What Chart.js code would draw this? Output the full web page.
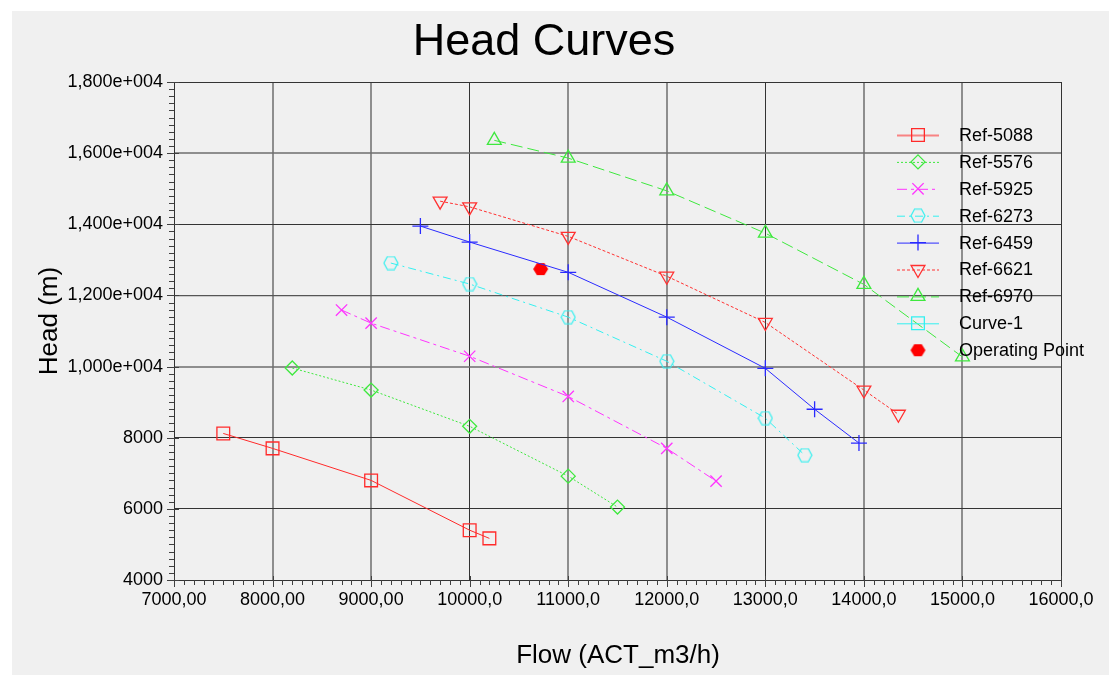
<!DOCTYPE html>
<html>
<head>
<meta charset="utf-8">
<script src="https://cdn.jsdelivr.net/npm/chart.js@4/dist/chart.umd.min.js"></script>
<style>
  body { margin: 0; background: #ffffff; }
  #panel { position: absolute; left: 12px; top: 11px; width: 1097px; height: 664px; background: #f0f0f0; }
  #head-chart { position: absolute; left: 0; top: 0; }
</style>
</head>
<body>
<div id="panel"></div>
<canvas id="head-chart" width="1109" height="675"></canvas>
<script>
// values
const flow5088 = [7500, 8000, 9000, 10000, 10200];
const head5088 = [8120, 7700, 6800, 5400, 5170];
const flow5576 = [8200, 9000, 10000, 11000, 11500];
const head5576 = [9960, 9340, 8320, 6920, 6050];
const flow5925 = [8700, 9000, 10000, 11000, 12000, 12500];
const head5925 = [11590, 11220, 10290, 9160, 7700, 6780];
const flow6273 = [9200, 10000, 11000, 12000, 13000, 13400];
const head6273 = [12910, 12320, 11390, 10150, 8550, 7510];
const flow6459 = [9500, 10000, 11000, 12000, 13000, 13500, 13950];
const head6459 = [13950, 13500, 12650, 11390, 9950, 8800, 7850];
const flow6621 = [9700, 10000, 11000, 12000, 13000, 14000, 14350];
const head6621 = [14650, 14490, 13660, 12540, 11240, 9340, 8660];
const flow6970 = [10250, 11000, 12000, 13000, 14000, 15000];
const head6970 = [16360, 15860, 14940, 13750, 12310, 10270];
const flowCurve1 = [];
const headCurve1 = [];
const flowOperating = [10720];
const headOperating = [12740];

const xTickLabels = ['7000,00', '8000,00', '9000,00', '10000,0', '11000,0', '12000,0', '13000,0', '14000,0', '15000,0', '16000,0'];
const yTickLabels = ['4000', '6000', '8000', '1,000e+004', '1,200e+004', '1,400e+004', '1,600e+004', '1,800e+004'];

const FONT = "'Liberation Sans', Arial, sans-serif";

// grid line looks: some lines show up gray and wider, others thin and dark
const gridGray = { color: 'rgba(110,110,110,0.75)', width: 2 };
const gridDark = { color: '#333333', width: 1 };
const gridMid = { color: '#555555', width: 1.3 };
const xGridLook = { 8000: gridGray, 9000: gridGray, 10000: gridDark, 11000: gridGray, 12000: gridGray,
                    13000: gridDark, 14000: gridGray, 15000: gridGray, 16000: gridDark };
const yGridLook = { 6000: gridDark, 8000: gridDark, 10000: gridGray, 12000: gridMid, 14000: gridDark,
                    16000: gridGray, 18000: gridDark };

function pts(xs, ys) {
  return xs.map((x, i) => ({ x: x, y: ys[i] }));
}

function hexagon(w, h, stroke, fill) {
  const c = document.createElement('canvas');
  c.width = w + 2; c.height = h + 2;
  const g = c.getContext('2d');
  const cx = c.width / 2, cy = c.height / 2;
  g.beginPath();
  g.moveTo(cx - w / 2, cy);
  g.lineTo(cx - w / 4, cy - h / 2);
  g.lineTo(cx + w / 4, cy - h / 2);
  g.lineTo(cx + w / 2, cy);
  g.lineTo(cx + w / 4, cy + h / 2);
  g.lineTo(cx - w / 4, cy + h / 2);
  g.closePath();
  if (fill) { g.fillStyle = fill; g.fill(); }
  if (stroke) { g.strokeStyle = stroke; g.lineWidth = 1.2; g.stroke(); }
  return c;
}

const hexCyan = hexagon(14, 13, '#33f0f0', null);
const hexRed = hexagon(15, 12, null, '#ff0000');

function series(label, xs, ys, color, dash, style, radius, rotation) {
  return {
    label: label,
    data: pts(xs, ys),
    showLine: true,
    borderColor: color,
    backgroundColor: 'rgba(0,0,0,0)',
    borderWidth: 1,
    borderDash: dash,
    pointStyle: style,
    pointRadius: radius,
    pointRotation: rotation || 0,
    pointBorderColor: color,
    pointBorderWidth: 1.3,
    pointBackgroundColor: 'rgba(0,0,0,0)',
    tension: 0
  };
}

const datasets = [
  series('Ref-5088', flow5088, head5088, '#ff2a2a', [], 'rect', 9),
  series('Ref-5576', flow5576, head5576, '#3ee83e', [2, 2], 'rectRot', 7),
  series('Ref-5925', flow5925, head5925, '#ff33ff', [10, 4, 3, 4], 'crossRot', 8),
  series('Ref-6273', flow6273, head6273, '#33f0f0', [8, 4, 2, 4], hexCyan, 7),
  series('Ref-6459', flow6459, head6459, '#2a2aff', [], 'cross', 8),
  series('Ref-6621', flow6621, head6621, '#ff3030', [3, 2], 'triangle', 8, 180),
  series('Ref-6970', flow6970, head6970, '#3ee83e', [12, 5], 'triangle', 8),
  series('Curve-1', flowCurve1, headCurve1, '#33f0f0', [], 'rect', 9),
  {
    label: 'Operating Point',
    data: pts(flowOperating, headOperating),
    showLine: false,
    pointStyle: hexRed,
    pointRadius: 7,
    borderColor: '#ff0000',
    backgroundColor: '#ff0000'
  }
];

// titles, minor ticks and the in-plot legend
const decorations = {
  id: 'decorations',
  afterDraw(chart) {
    const ctx = chart.ctx;
    const xs = chart.scales.x, ys = chart.scales.y;
    const area = chart.chartArea;
    ctx.save();

    // minor + major tick marks
    ctx.strokeStyle = '#404040';
    ctx.lineWidth = 1;
    ctx.beginPath();
    for (let v = xs.min; v <= xs.max; v += 100) {
      const px = Math.round(xs.getPixelForValue(v)) + 0.5;
      const major = v % 1000 === 0;
      ctx.moveTo(px, area.bottom - (major ? 4 : 0));
      ctx.lineTo(px, area.bottom + (major ? 7 : 5));
    }
    for (let v = ys.min; v <= ys.max; v += 200) {
      const py = Math.round(ys.getPixelForValue(v)) + 0.5;
      const major = v % 2000 === 0;
      ctx.moveTo(area.left - (major ? 7 : 5), py);
      ctx.lineTo(area.left + (major ? 5 : 0), py);
    }
    ctx.stroke();

    // legend
    const rowTop = 135, rowStep = 26.9;
    chart.data.datasets.forEach((ds, i) => {
      const y = rowTop + i * rowStep;
      if (ds.showLine) {
        ctx.save();
        ctx.strokeStyle = ds.borderColor;
        ctx.lineWidth = ds.label === 'Ref-5088' ? 2 : 1;
        ctx.globalAlpha = ds.label === 'Ref-5088' ? 0.55 : 1;
        ctx.setLineDash(ds.borderDash || []);
        ctx.beginPath();
        ctx.moveTo(897, y + 0.5);
        ctx.lineTo(939, y + 0.5);
        ctx.stroke();
        ctx.restore();
      }
      ctx.save();
      ctx.strokeStyle = ds.pointBorderColor || ds.borderColor;
      ctx.fillStyle = 'rgba(0,0,0,0)';
      ctx.lineWidth = 1.3;
      Chart.helpers.drawPoint(ctx, {
        pointStyle: ds.pointStyle,
        rotation: ds.pointRotation || 0,
        radius: ds.pointRadius,
        borderWidth: 1.3
      }, 918, y);
      ctx.restore();
      ctx.fillStyle = '#000000';
      ctx.font = '18px ' + FONT;
      ctx.textAlign = 'left';
      ctx.textBaseline = 'middle';
      ctx.fillText(ds.label, 959, y + 1);
    });

    // chart title and axis titles
    ctx.fillStyle = '#000000';
    ctx.textAlign = 'center';
    ctx.textBaseline = 'alphabetic';
    ctx.font = '45px ' + FONT;
    ctx.fillText('Head Curves', 544, 55);
    ctx.font = '26px ' + FONT;
    ctx.fillText('Flow (ACT_m3/h)', 618, 663);
    ctx.translate(57, 321);
    ctx.rotate(-Math.PI / 2);
    ctx.fillText('Head (m)', 0, 0);
    ctx.restore();
  }
};

const config = {
  type: 'scatter',
  data: { datasets: datasets },
  options: {
    responsive: false,
    animation: false,
    devicePixelRatio: 1,
    layout: { padding: { left: 28, top: 82, right: 48, bottom: 0 } },
    plugins: {
      legend: { display: false },
      title: { display: false },
      tooltip: { enabled: false }
    },
    scales: {
      x: {
        type: 'linear',
        min: 7000,
        max: 16000,
        afterFit: s => { s.height = 95; },
        ticks: {
          stepSize: 1000,
          color: '#000000',
          padding: 9,
          maxRotation: 0,
          autoSkip: false,
          font: { family: FONT, size: 18 },
          callback: (v, i) => xTickLabels[i]
        },
        grid: {
          drawTicks: false,
          color: c => (xGridLook[c.tick.value] || gridDark).color,
          lineWidth: c => (xGridLook[c.tick.value] || gridDark).width
        },
        border: { display: true, color: '#333333', width: 1 }
      },
      y: {
        type: 'linear',
        min: 4000,
        max: 18000,
        afterFit: s => { s.width = 146; },
        ticks: {
          stepSize: 2000,
          color: '#000000',
          padding: 11,
          autoSkip: false,
          font: { family: FONT, size: 18 },
          callback: (v, i) => yTickLabels[i]
        },
        grid: {
          drawTicks: false,
          color: c => (yGridLook[c.tick.value] || gridDark).color,
          lineWidth: c => (yGridLook[c.tick.value] || gridDark).width
        },
        border: { display: true, color: '#333333', width: 1 }
      }
    }
  },
  plugins: [decorations]
};

const ctx = document.getElementById('head-chart').getContext('2d');
window.headChart = new Chart(ctx, config);
</script>
</body>
</html>
